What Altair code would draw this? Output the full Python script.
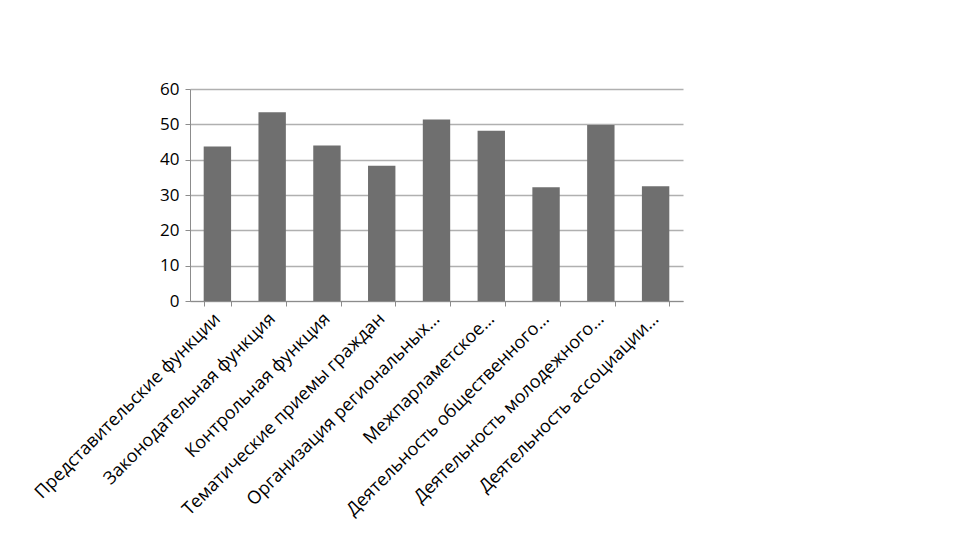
import altair as alt
import pandas as pd

categories = [
    "Представительские функции",
    "Законодательная функция",
    "Контрольная функция",
    "Тематические приемы граждан",
    "Организация региональных…",
    "Межпарламетское…",
    "Деятельность общественного…",
    "Деятельность молодежного…",
    "Деятельность ассоциации…",
]
values = [43.7, 53.4, 44.0, 38.3, 51.4, 48.2, 32.2, 49.8, 32.5]

df = pd.DataFrame({"cat": categories, "val": values})

chart = alt.Chart(df).mark_bar(color="#6f6f6f").encode(
    x=alt.X("cat:N", sort=categories, title=None,
            scale=alt.Scale(paddingInner=0.5, paddingOuter=0.25),
            axis=alt.Axis(labelAngle=-45, labelAlign="right", labelBaseline="middle",
                          tickBand="extent", tickSize=5, tickColor="#8c8c8c",
                          domainColor="#8c8c8c", labelFont="Open Sans", labelFontSize=18,
                          labelColor="#000000", labelPadding=10, labelLimit=0, grid=False)),
    y=alt.Y("val:Q", title=None,
            scale=alt.Scale(domain=[0, 60], nice=False),
            axis=alt.Axis(values=[0, 10, 20, 30, 40, 50, 60], tickSize=5, tickColor="#8c8c8c",
                          domainColor="#8c8c8c", gridColor="#b0b0b0", gridWidth=1.5,
                          labelFont="Open Sans", labelFontSize=17, labelColor="#000000",
                          labelPadding=6)),
).properties(
    width=493, height=212,
    background="white",
    autosize=alt.AutoSizeParams(type="none"),
    padding={"left": 182, "top": 81, "right": 280, "bottom": 250},
).configure_view(strokeWidth=0, stroke="transparent")

chart.save("out.html", embed_options={"renderer": "svg", "actions": False})
